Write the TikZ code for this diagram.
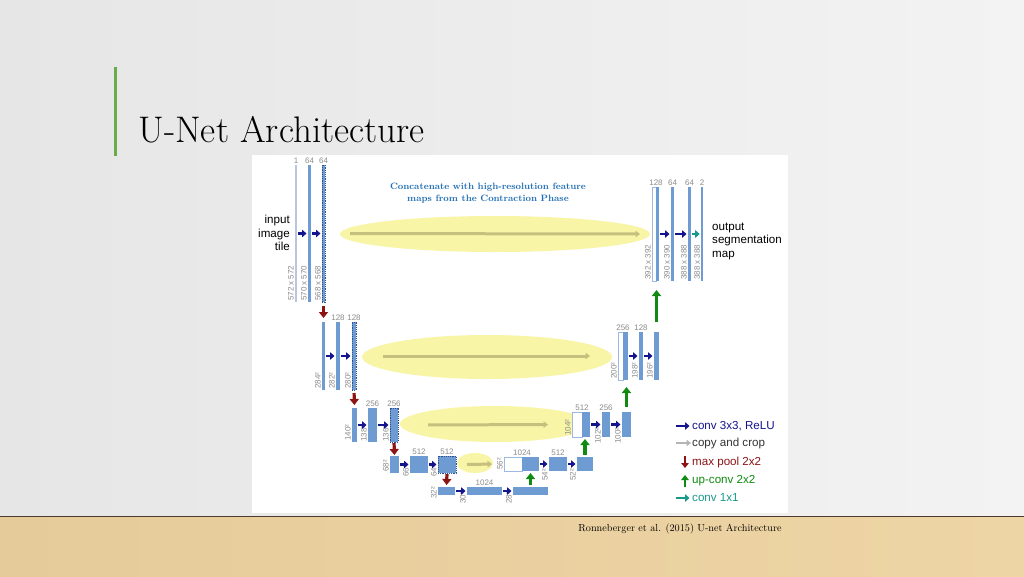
\documentclass[tikz,border=0pt]{standalone}
\usepackage{fontspec}
\newfontfamily\arialfont{Liberation Sans}
\usetikzlibrary{arrows.meta,shapes.geometric}
\definecolor{barblue}{HTML}{6F9BD3}
\definecolor{thinblue}{HTML}{B9C4DE}
\definecolor{cropblue}{HTML}{2F4F8F}
\definecolor{cutedge}{HTML}{9DB8E2}
\definecolor{convnavy}{HTML}{14148C}
\definecolor{poolred}{HTML}{8C1414}
\definecolor{upgreen}{HTML}{108A10}
\definecolor{tealc}{HTML}{179A8C}
\definecolor{copygrey}{HTML}{B5B5B5}
\definecolor{copykhaki}{HTML}{C6C07F}
\definecolor{blobyellow}{HTML}{F8F5A6}
\definecolor{labgrey}{HTML}{8C8C8C}
\definecolor{concatblue}{HTML}{1E6DB4}
\definecolor{accent}{HTML}{6AAB4A}
\definecolor{bgleft}{HTML}{E6E6E6}
\definecolor{bgright}{HTML}{F3F3F3}
\definecolor{woodleft}{HTML}{E6CB9A}
\definecolor{woodmid}{HTML}{F5E2B5}
\definecolor{woodright}{HTML}{EED5A5}
\definecolor{woodedge}{HTML}{4B3B2C}
\newcommand\barfont{\arialfont\fontsize{8}{9}\selectfont}
\newcommand\keyfont{\arialfont\fontsize{11.6}{13.5}\selectfont}

\begin{document}
\begin{tikzpicture}[x = 1pt, y = -1pt,
    bar/.style 2 args = {rectangle, fill = barblue, inner sep = 0pt, outer sep = 0pt,
      minimum width = #1, minimum height = #2},
    crop/.style = {draw = cropblue, dash pattern = on 1.2pt off 1pt, line width = 0.5pt},
    cut/.style = {fill = white, draw = cutedge, line width = 0.4pt},
    num/.style = {font = \barfont, text = labgrey, inner sep = 1pt, above},
    dim/.style = {font = \barfont, text = labgrey, inner sep = 1pt, rotate = 90, anchor = south west},
    blob/.style = {ellipse, fill = blobyellow, inner sep = 0pt},
    conv/.style = {draw = convnavy, line width = 2.4pt, -{Triangle[length = 4.5pt, width = 7.5pt]},
      shorten <= 1pt, shorten >= 1.5pt},
    copy/.style = {draw = copykhaki, line width = 3pt, -{Triangle[length = 4.5pt, width = 6.5pt]}},
    pool/.style = {draw = poolred, line width = 3.2pt, -{Triangle[length = 6pt, width = 9pt]}},
    up/.style = {draw = upgreen, line width = 3.2pt, -{Triangle[length = 6pt, width = 9pt]}},
    one/.style = {draw = tealc, line width = 2.4pt, -{Triangle[length = 4.5pt, width = 7.5pt]},
      shorten <= 1pt, shorten >= 1.5pt},
    key/.style = {font = \keyfont, anchor = west, inner sep = 1pt}]
  \useasboundingbox (0, 0) rectangle (1024, 576);

  \shade[left color = bgleft, right color = bgright] (0, 0) rectangle (1024, 576);
  \shade[left color = woodleft, middle color = woodmid, right color = woodright] (0, 516) rectangle (1024, 576);
  \draw[woodedge, line width = 1.5pt] (0, 516.5) -- (1024, 516.5);
  \fill[accent] (114, 67) rectangle (117, 156);
  \fill[white] (252, 155) rectangle (788, 513);

  \node[anchor = base west, font = \fontsize{37}{44}\selectfont] at (135, 142) (title) {U-Net Architecture};
  \node[font = \fontsize{10.2}{12}\selectfont] at (680, 529) (cite) {Ronneberger et al. (2015) U-net Architecture};
  \node[align = center, text = concatblue, font = \bfseries\fontsize{9.2}{12.5}\selectfont] at (488, 193) (note)
    {Concatenate with high-resolution feature\\maps from the Contraction Phase};

  \node[blob, minimum width = 310, minimum height = 36] at (495, 234) (e1) {};
  \node[blob, minimum width = 250, minimum height = 44] at (487, 357) (e2) {};
  \node[blob, minimum width = 190, minimum height = 36] at (495, 424) (e3) {};
  \node[blob, minimum width = 36,  minimum height = 20] at (475, 463) (e4) {};

  \node[bar = {2}{137}, fill = thinblue] at (296, 233.5) (l1a) {};
  \node[num] at (l1a.north) (t1a) {1};
  \node[dim] at (l1a.south west) (d1a) {572 x 572};
  \node[bar = {3}{137}] at (309.5, 233.5) (l1b) {};
  \node[num] at (l1b.north) (t1b) {64};
  \node[dim] at (l1b.south west) (d1b) {570 x 570};
  \node[bar = {3}{137}, crop] at (323.5, 233.5) (l1c) {};
  \node[num] at (l1c.north) (t1c) {64};
  \node[dim] at (l1c.south west) (d1c) {568 x 568};

  \node[bar = {4}{94}, cut] at (654, 234) (r1a) {};
  \node[bar = {3}{94}] at (657.5, 234) (r1b) {};
  \node[num] at (r1a.north east) (s1a) {128};
  \node[dim] at (r1a.south west) (e1a) {392 x 392};
  \node[bar = {3}{94}] at (672.5, 234) (r1c) {};
  \node[num] at (r1c.north) (s1c) {64};
  \node[dim] at (r1c.south west) (e1c) {390 x 390};
  \node[bar = {3}{94}] at (689.5, 234) (r1d) {};
  \node[num] at (r1d.north) (s1d) {64};
  \node[dim] at (r1d.south west) (e1d) {388 x 388};
  \node[bar = {1.6}{94}] at (702, 234) (r1e) {};
  \node[num] at (r1e.north) (s1e) {2};
  \node[dim] at (r1e.south west) (e1e) {388 x 388};

  \node[bar = {3}{68}] at (323.5, 356) (l2a) {};
  \node[dim] at (l2a.south west) (d2a) {284²};
  \node[bar = {4}{68}] at (338, 356) (l2b) {};
  \node[num] at (l2b.north) (t2b) {128};
  \node[dim] at (l2b.south west) (d2b) {282²};
  \node[bar = {4}{68}, crop] at (354, 356) (l2c) {};
  \node[num] at (l2c.north) (t2c) {128};
  \node[dim] at (l2c.south west) (d2c) {280²};

  \node[bar = {5}{48}, cut] at (620.5, 356) (r2a) {};
  \node[bar = {5}{48}] at (625.5, 356) (r2b) {};
  \node[num] at (r2a.north east) (s2a) {256};
  \node[dim] at (r2a.south west) (e2a) {200²};
  \node[bar = {4}{48}] at (641, 356) (r2c) {};
  \node[num] at (r2c.north) (s2c) {128};
  \node[dim] at (r2c.south west) (e2c) {198²};
  \node[bar = {5}{48}] at (656.5, 356) (r2d) {};
  \node[dim] at (r2d.south west) (e2d) {196²};

  \node[bar = {5}{34}] at (354.5, 425) (l3a) {};
  \node[dim] at (l3a.south west) (d3a) {140²};
  \node[bar = {9}{34}] at (372.5, 425) (l3b) {};
  \node[num] at (l3b.north) (t3b) {256};
  \node[dim] at ([yshift = -1pt]l3b.south west) (d3b) {138²};
  \node[bar = {8}{34}, crop] at (394, 425) (l3c) {};
  \node[num] at (l3c.north) (t3c) {256};
  \node[dim] at ([yshift = -1pt]l3c.south west) (d3c) {136²};

  \node[bar = {10}{25}, cut] at (577, 424.5) (r3a) {};
  \node[bar = {8}{25}] at (586, 424.5) (r3b) {};
  \node[num] at (r3a.north east) (s3a) {512};
  \node[dim] at (r3a.south west) (e3a) {104²};
  \node[bar = {8}{25}] at (606, 424.5) (r3c) {};
  \node[num] at (r3c.north) (s3c) {256};
  \node[dim] at ([yshift = -8pt]r3c.south west) (e3c) {102²};
  \node[bar = {9}{25}] at (626.5, 424.5) (r3d) {};
  \node[dim] at ([yshift = -8pt]r3d.south west) (e3d) {100²};

  \node[bar = {9}{17}] at (394.5, 464.5) (l4a) {};
  \node[dim] at (l4a.south west) (d4a) {68²};
  \node[bar = {18}{17}] at (419, 464.5) (l4b) {};
  \node[num] at (l4b.north) (t4b) {512};
  \node[dim] at ([yshift = -5pt]l4b.south west) (d4b) {66²};
  \node[bar = {18}{17}, crop] at (447, 464.5) (l4c) {};
  \node[num] at (l4c.north) (t4c) {512};
  \node[dim] at ([yshift = -5pt]l4c.south west) (d4c) {64²};

  \node[bar = {18}{14}, cut] at (513, 464) (r4a) {};
  \node[bar = {17}{14}] at (530.5, 464) (r4b) {};
  \node[num] at (r4a.north east) (s4a) {1024};
  \node[dim] at (r4a.south west) (e4a) {56²};
  \node[bar = {18}{14}] at (558, 464) (r4c) {};
  \node[num] at (r4c.north) (s4c) {512};
  \node[dim] at ([yshift = -11pt]r4c.south west) (e4c) {54²};
  \node[bar = {16}{14}] at (585, 464) (r4d) {};
  \node[dim] at ([yshift = -11pt]r4d.south west) (e4d) {52²};

  \node[bar = {17}{8}] at (446.5, 491) (b5a) {};
  \node[dim] at ([yshift = -5pt]b5a.south west) (d5a) {32²};
  \node[bar = {35}{8}] at (484.5, 491) (b5b) {};
  \node[num] at (b5b.north) (t5b) {1024};
  \node[dim] at ([yshift = -10pt]b5b.south west) (d5b) {30²};
  \node[bar = {35}{8}] at (530.5, 491) (b5c) {};
  \node[dim] at ([yshift = -10pt]b5c.south west) (d5c) {28²};

  \draw[copy, shorten <= 25pt, shorten >= 12pt] (l1c) -- (r1a);
  \draw[copy, shorten <= 27pt, shorten >= 28pt] (l2c) -- (r2a);
  \draw[copy, shorten <= 30pt, shorten >= 24pt] (l3c) -- (r3a);
  \draw[copy, shorten <= 11pt, shorten >= 12pt] (l4c) -- (r4a);

  \draw[conv] (l1a) -- (l1b);
  \draw[conv] (l1b) -- (l1c);
  \draw[conv] (r1b) -- (r1c);
  \draw[conv] (r1c) -- (r1d);
  \draw[one] (r1d) -- (r1e);
  \draw[conv] (l2a) -- (l2b);
  \draw[conv] (l2b) -- (l2c);
  \draw[conv] (r2b) -- (r2c);
  \draw[conv] (r2c) -- (r2d);
  \draw[conv] (l3a) -- (l3b);
  \draw[conv] (l3b) -- (l3c);
  \draw[conv] (r3b) -- (r3c);
  \draw[conv] (r3c) -- (r3d);
  \draw[conv] (l4a) -- (l4b);
  \draw[conv] (l4b) -- (l4c);
  \draw[conv] (r4b) -- (r4c);
  \draw[conv] (r4c) -- (r4d);
  \draw[conv] (b5a) -- (b5b);
  \draw[conv] (b5b) -- (b5c);

  \draw[pool, shorten <= 4pt, shorten >= 4pt] (l1c.south) -- (l2a.north);
  \draw[pool, shorten <= 3pt, shorten >= 3pt] (l2c.south) -- (l3a.north);
  \draw[pool, shorten <= 1pt, shorten >= 1pt] (l3c.south) -- (l4a.north);
  \draw[pool, shorten <= 1pt, shorten >= 2pt] (l4c.south) -- (b5a.north);

  \draw[up, shorten <= 2pt, shorten >= 2pt] (b5c.north) -- (b5c.north |- r4b.south);
  \draw[up, shorten <= 2pt, shorten >= 2pt] (r4d.north) -- (r4d.north |- r3b.south);
  \draw[up, shorten <= 5pt, shorten >= 7pt] (r3d.north) -- (r3d.north |- r2b.south);
  \draw[up, shorten <= 10pt, shorten >= 9pt] (r2d.north) -- (r2d.north |- r1b.south);

  \node[font = \keyfont, align = right, anchor = east, inner sep = 1pt] at (291, 233) (input) {input\\image\\tile};
  \node[font = \keyfont, align = left, anchor = west, inner sep = 1pt] at (711, 241) (output) {output\\segmentation\\map};

  \node[key, text = convnavy] at (691, 426) (key1) {conv 3x3, ReLU};
  \node[key, text = black!80] at (691, 443) (key2) {copy and crop};
  \node[key, text = poolred] at (691, 462) (key3) {max pool 2x2};
  \node[key, text = upgreen] at (691, 481) (key4) {up-conv 2x2};
  \node[key, text = tealc] at (691, 498) (key5) {conv 1x1};
  \coordinate (k1) at (676, 426);
  \coordinate (k2) at (676, 443);
  \coordinate (k3a) at (685, 456);
  \coordinate (k3b) at (685, 468);
  \coordinate (k4a) at (685, 487);
  \coordinate (k4b) at (685, 475);
  \coordinate (k5) at (676, 498);
  \draw[conv, shorten <= 0pt] (k1) -- (key1);
  \draw[copy, draw = copygrey, line width = 2.6pt] (k2) -- (key2);
  \draw[pool, line width = 2.6pt, -{Triangle[length = 5pt, width = 7.5pt]}] (k3a) -- (k3b);
  \draw[up, line width = 2.6pt, -{Triangle[length = 5pt, width = 7.5pt]}] (k4a) -- (k4b);
  \draw[one, shorten <= 0pt] (k5) -- (key5);
\end{tikzpicture}
\end{document}
